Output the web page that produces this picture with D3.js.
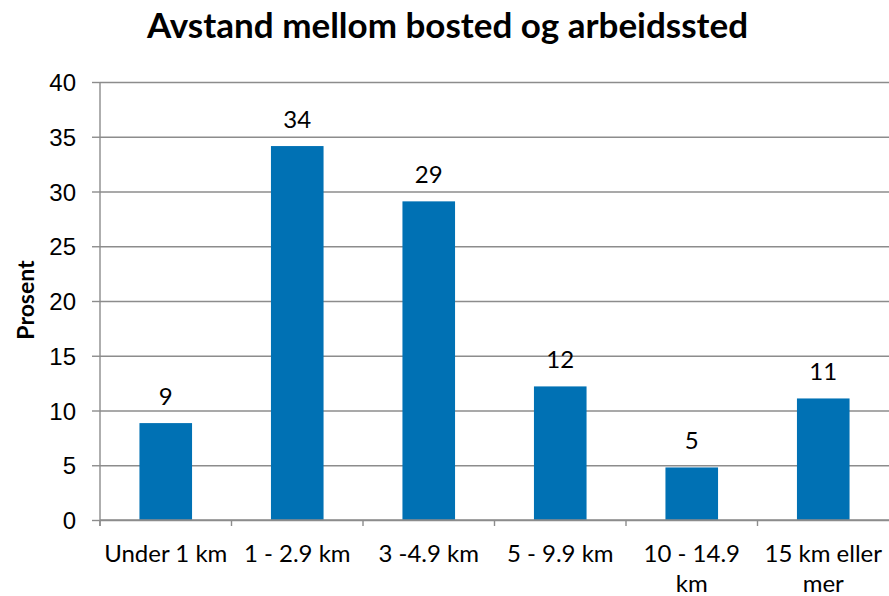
<!DOCTYPE html>
<html>
<head>
<meta charset="utf-8">
<script src="https://cdn.jsdelivr.net/npm/d3@7"></script>
<style>
  body { margin: 0; background: #fff; }
  svg { display: block; font-family: Lato, "Open Sans", sans-serif; }
</style>
</head>
<body>
<svg id="chart"></svg>
<script>
// Data
const categories = ["Under 1 km", "1 - 2.9 km", "3  -4.9 km", "5 - 9.9 km", "10 - 14.9 km", "15 km eller mer"];
const values = [8.85, 34.15, 29.1, 12.2, 4.8, 11.1];
const yTicks = [0, 5, 10, 15, 20, 25, 30, 35, 40];
const title = "Avstand mellom bosted og arbeidssted";
const yTitle = "Prosent";

// Layout
const width = 889, height = 596;
const margin = {top: 82, right: 0, bottom: 76, left: 100};
const plotW = width - margin.left - margin.right;
const plotH = height - margin.top - margin.bottom;
const barColor = "#0071b4";
const gridColor = "#8c8c8c";
const fontSize = "24px";

const svg = d3.select("#chart")
    .attr("width", width)
    .attr("height", height);

const x = d3.scaleBand()
    .domain(categories)
    .range([0, plotW])
    .paddingInner(0.6)
    .paddingOuter(0.3);

const y = d3.scaleLinear()
    .domain([0, 40])
    .range([plotH, 0]);

const g = svg.append("g")
    .attr("transform", `translate(${margin.left},${margin.top})`);

// gridlines
g.append("g")
    .attr("class", "grid")
    .call(d3.axisLeft(y).tickValues(yTicks).tickSize(-plotW).tickFormat(""))
    .call(s => s.select(".domain").remove())
    .call(s => s.selectAll("line").attr("stroke", gridColor).attr("stroke-width", 1.4));

// y axis
const yAxis = g.append("g")
    .call(d3.axisLeft(y).tickValues(yTicks).tickSize(8).tickPadding(16).tickSizeOuter(0));
yAxis.select(".domain").attr("stroke", gridColor).attr("stroke-width", 1.4)
    .attr("d", `M0,0V${plotH + 6}`);
yAxis.selectAll("line").attr("stroke", gridColor).attr("stroke-width", 1.4);
yAxis.selectAll("text")
    .attr("fill", "#000")
    .style("font-size", fontSize)
    .attr("dy", "0.36em");

// bars
g.selectAll(".bar")
    .data(values)
    .enter().append("rect")
    .attr("class", "bar")
    .attr("x", (d, i) => x(categories[i]))
    .attr("width", x.bandwidth())
    .attr("y", d => y(d))
    .attr("height", d => plotH - y(d))
    .attr("fill", barColor);

// value labels
g.selectAll(".val")
    .data(values)
    .enter().append("text")
    .attr("class", "val")
    .attr("x", (d, i) => x(categories[i]) + x.bandwidth() / 2)
    .attr("y", d => y(d) - 18)
    .attr("text-anchor", "middle")
    .style("font-size", fontSize)
    .text(d => d3.format(".0f")(d));

// x axis
const xAxis = g.append("g")
    .attr("transform", `translate(0,${plotH})`);
xAxis.append("line")
    .attr("x1", 0).attr("x2", plotW)
    .attr("stroke", gridColor).attr("stroke-width", 1.4);
const step = x.step();
xAxis.selectAll(".tick-b")
    .data(d3.range(categories.length))
    .enter().append("line")
    .attr("class", "tick-b")
    .attr("x1", i => i * step).attr("x2", i => i * step)
    .attr("y1", 0).attr("y2", 6)
    .attr("stroke", gridColor).attr("stroke-width", 1.4);

const labels = xAxis.selectAll(".xl")
    .data(categories)
    .enter().append("text")
    .attr("class", "xl")
    .attr("text-anchor", "middle")
    .style("font-size", fontSize)
    .attr("transform", d => `translate(${x(d) + x.bandwidth() / 2},42)`);

labels.each(function (d) {
    const t = d3.select(this);
    const words = d.split(" ");
    let line = [];
    let tspan = t.append("tspan").attr("x", 0).attr("dy", 0);
    words.forEach(w => {
        line.push(w);
        tspan.text(line.join(" "));
        if (tspan.node().getComputedTextLength() > 126 && line.length > 1) {
            line.pop();
            tspan.text(line.join(" "));
            line = [w];
            tspan = t.append("tspan").attr("x", 0).attr("dy", 30).text(w);
        }
    });
});

// title
svg.append("text")
    .attr("x", width / 2 + 3)
    .attr("y", 38)
    .attr("text-anchor", "middle")
    .style("font-size", "35px")
    .style("font-weight", "bold")
    .text(title);

// y title
svg.append("text")
    .attr("transform", `translate(34,300) rotate(-90)`)
    .attr("text-anchor", "middle")
    .style("font-size", "23px")
    .style("font-weight", "bold")
    .text(yTitle);
</script>
</body>
</html>
